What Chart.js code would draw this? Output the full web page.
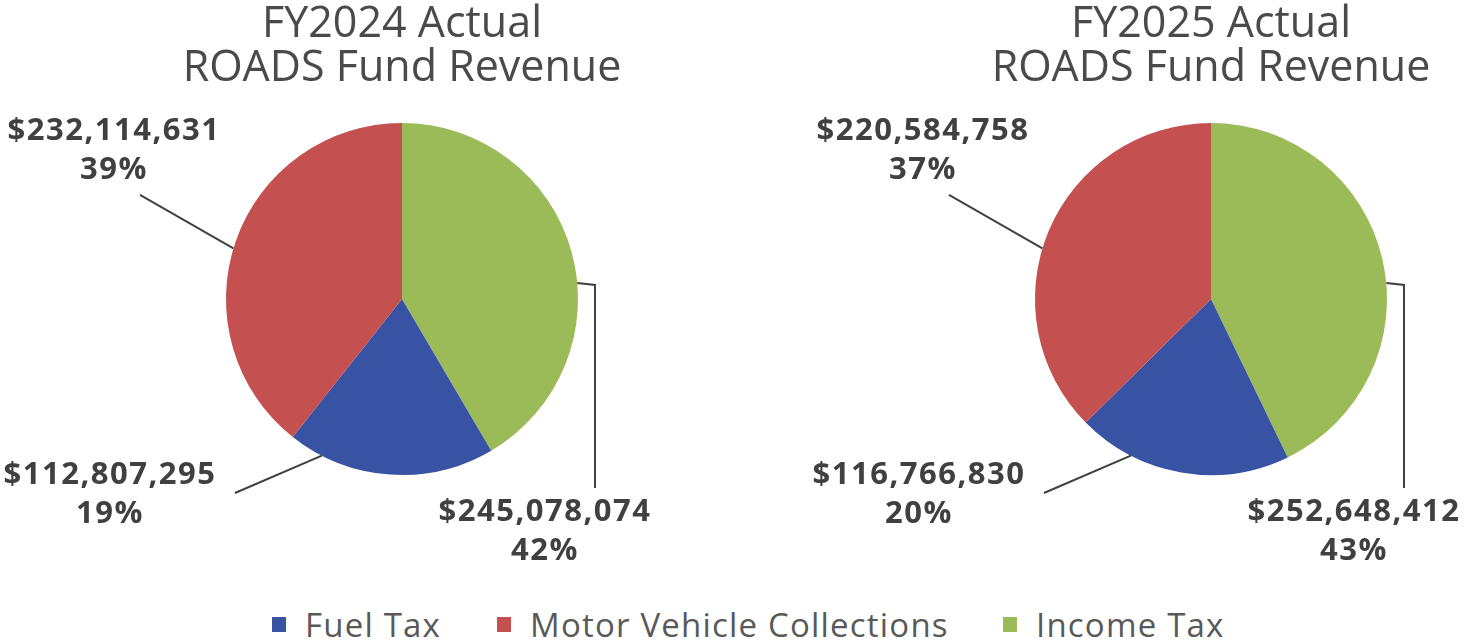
<!DOCTYPE html>
<html>
<head>
<meta charset="utf-8">
<script src="https://cdn.jsdelivr.net/npm/chart.js@4.4.1/dist/chart.umd.min.js"></script>
<style>
  html, body { margin: 0; padding: 0; background: #fff; }
  body { width: 1480px; height: 641px; position: relative; overflow: hidden; font-family: "Open Sans", sans-serif; }
  .pie { position: absolute; top: 0; height: 600px; }
  #legend { position: absolute; left: 0; top: 604px; width: 1480px; height: 40px; }
  .item { position: absolute; top: 0; height: 40px; display: flex; align-items: center; color: #595959; font-size: 33px; letter-spacing: 1.2px; white-space: nowrap; }
  .box { width: 14px; height: 15px; margin-right: 19px; }
</style>
</head>
<body>
<div class="pie" style="left:0px; width:804px"><canvas id="fy2024"></canvas></div>
<div class="pie" style="left:741px; width:940px"><canvas id="fy2025"></canvas></div>
<div id="legend"></div>

<script>
// Slice order follows the pie clockwise from 12 o'clock
const categories = ['Income Tax', 'Fuel Tax', 'Motor Vehicle Collections'];
const fy2024Values = [245078074, 112807295, 232114631];
const fy2025Values = [252648412, 116766830, 220584758];
const sliceColors = ['#9bbb59', '#3953a4', '#c4514f'];

// Legend order as shown under the charts
const legendOrder = ['Fuel Tax', 'Motor Vehicle Collections', 'Income Tax'];
const legendLeft = [272, 497, 1003];

// Label placement per slice (offsets from pie centre, in units of a 176px radius)
const labelLayout = [
  { angle: -5.2, path: [[193, -14], [193, 189]], text: [143, 213] },   // Income Tax
  { angle: 117.1, path: [[-167, 194]], text: [-292, 176] },           // Fuel Tax
  { angle: -163.3, path: [[-262, -104]], text: [-288, -168] }         // Motor Vehicle
];

const fmt = v => '$' + v.toLocaleString('en-US');

// Draws value + percent labels with leader lines
const leaderLabels = {
  id: 'leaderLabels',
  afterDraw(chart) {
    const ctx = chart.ctx;
    const data = chart.data.datasets[0].data;
    const total = data.reduce((s, v) => s + v, 0);
    const arcs = chart.getDatasetMeta(0).data;
    ctx.save();
    arcs.forEach((arc, i) => {
      const cfg = labelLayout[i];
      const k = arc.outerRadius / 176;
      const a = cfg.angle * Math.PI / 180;
      ctx.strokeStyle = '#404040';
      ctx.lineWidth = 2;
      ctx.beginPath();
      ctx.moveTo(arc.x + Math.cos(a) * arc.outerRadius, arc.y + Math.sin(a) * arc.outerRadius);
      cfg.path.forEach(p => ctx.lineTo(arc.x + p[0] * k, arc.y + p[1] * k));
      ctx.stroke();

      ctx.fillStyle = '#404040';
      ctx.font = 'bold 31px "Open Sans", sans-serif';
      ctx.letterSpacing = '1.5px';
      ctx.textAlign = 'center';
      ctx.textBaseline = 'middle';
      const tx = arc.x + cfg.text[0] * k;
      const ty = arc.y + cfg.text[1] * k;
      ctx.fillText(fmt(data[i]), tx, ty);
      ctx.fillText(Math.round(data[i] / total * 100) + '%', tx, ty + 39);
    });
    ctx.restore();
  }
};

function makePie(id, title, values) {
  new Chart(document.getElementById(id), {
    type: 'pie',
    data: {
      labels: categories,
      datasets: [{
        data: values,
        backgroundColor: sliceColors,
        borderWidth: 0
      }]
    },
    options: {
      responsive: true,
      maintainAspectRatio: false,
      animation: false,
      layout: { padding: { top: 0, bottom: 125, left: 0, right: 0 } },
      plugins: {
        legend: { display: false },
        tooltip: { enabled: false },
        title: {
          display: true,
          text: title,
          color: '#4a4a4a',
          font: { family: '"Open Sans", sans-serif', size: 43, weight: 'normal', lineHeight: 1.023 },
          padding: { top: 3, bottom: 32 }
        }
      }
    },
    plugins: [leaderLabels]
  });
}

makePie('fy2024', ['FY2024 Actual', 'ROADS Fund Revenue'], fy2024Values);
makePie('fy2025', ['FY2025 Actual', 'ROADS Fund Revenue'], fy2025Values);

// Shared legend
const legend = document.getElementById('legend');
legendOrder.forEach((name, i) => {
  const item = document.createElement('div');
  item.className = 'item';
  item.style.left = legendLeft[i] + 'px';
  const box = document.createElement('span');
  box.className = 'box';
  box.style.background = sliceColors[categories.indexOf(name)];
  item.appendChild(box);
  item.appendChild(document.createTextNode(name));
  legend.appendChild(item);
});
</script>
</body>
</html>
